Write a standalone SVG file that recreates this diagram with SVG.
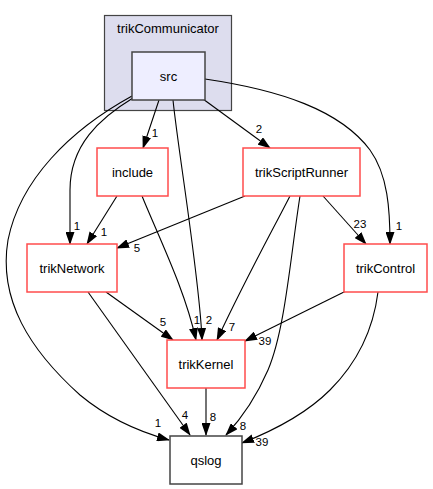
<svg xmlns="http://www.w3.org/2000/svg" width="433" height="489" viewBox="0 0 433 489">
<style>
text{font-family:"Liberation Sans",Arial,sans-serif;fill:#000}
.nl{font-size:13px;text-anchor:middle}
.el{font-size:11.5px;text-anchor:middle}
.red{fill:#fff;stroke:#ff4c4c;stroke-width:1.5}
.gray{fill:#fff;stroke:#444;stroke-width:1.5}
.e{fill:none;stroke:#000;stroke-width:1.1;marker-end:url(#ah)}
</style>
<defs>
<marker id="ah" markerUnits="userSpaceOnUse" viewBox="0 0 13 9" markerWidth="13" markerHeight="9" refX="12" refY="4.5" orient="auto">
<path d="M0,0 L13,4.5 L0,9 z" fill="#000"/>
</marker>
</defs>
<g id="cluster_trikCommunicator">
<rect x="104.5" y="15.5" width="127" height="95" fill="#ddddee" stroke="#444" stroke-width="1.2"/>
<text class="nl" x="168" y="33">trikCommunicator</text>
</g>
<g id="edges">
<path class="e" d="M159,100 L143,148"/>
<path class="e" d="M133,98 C100,118 70,145 70,190 L70,244"/>
<path class="e" d="M132,96 C70,130 20,180 8,240 C-2,300 30,350 80,395 C110,420 140,432 169,440"/>
<path class="e" d="M173,100 C178,150 200,280 202,340"/>
<path class="e" d="M203,99 L270,148"/>
<path class="e" d="M205,79 C280,90 340,110 370,150 C388,175 390,210 390,244"/>
<path class="e" d="M117,196 L87,244"/>
<path class="e" d="M142,196 C160,240 185,290 196,340"/>
<path class="e" d="M245,196 L117,248"/>
<path class="e" d="M323,196 L366,244"/>
<path class="e" d="M290,196 C270,235 245,280 217,340"/>
<path class="e" d="M300,196 C290,260 285,330 268,370 C255,400 240,420 226,435"/>
<path class="e" d="M106,292 L173,340"/>
<path class="e" d="M88,292 L190,435"/>
<path class="e" d="M346,291 L245,341"/>
<path class="e" d="M378,292 C372,340 350,370 330,390 C305,415 270,432 242,443"/>
<path class="e" d="M206,388 L206,435"/>
<text class="el" x="155" y="137">1</text>
<text class="el" x="77" y="230">1</text>
<text class="el" x="104" y="236">1</text>
<text class="el" x="137" y="252">5</text>
<text class="el" x="259" y="133">2</text>
<text class="el" x="399" y="230">1</text>
<text class="el" x="360" y="228">23</text>
<text class="el" x="163" y="326">5</text>
<text class="el" x="197" y="324">1</text>
<text class="el" x="209" y="324">2</text>
<text class="el" x="232" y="331">7</text>
<text class="el" x="265" y="345">39</text>
<text class="el" x="158" y="427">1</text>
<text class="el" x="185" y="419">4</text>
<text class="el" x="213" y="421">8</text>
<text class="el" x="243" y="430">8</text>
<text class="el" x="262" y="446">39</text>
</g>
<g id="node_src">
<rect x="132" y="52" width="73" height="48" fill="#eeeeff" stroke="#444" stroke-width="1.5"/>
<text class="nl" x="168.5" y="80.5">src</text>
</g>
<g id="node_include">
<rect class="red" x="97" y="148" width="71" height="48"/>
<text class="nl" x="132.5" y="176.5">include</text>
</g>
<g id="node_trikScriptRunner">
<rect class="red" x="243" y="148" width="117" height="48"/>
<text class="nl" x="301.5" y="176.5">trikScriptRunner</text>
</g>
<g id="node_trikNetwork">
<rect class="red" x="27" y="244" width="90" height="48"/>
<text class="nl" x="72" y="272.5">trikNetwork</text>
</g>
<g id="node_trikControl">
<rect class="red" x="344" y="244" width="83" height="48"/>
<text class="nl" x="385.5" y="272.5">trikControl</text>
</g>
<g id="node_trikKernel">
<rect class="red" x="167" y="340" width="78" height="48"/>
<text class="nl" x="206" y="368.5">trikKernel</text>
</g>
<g id="node_qslog">
<rect class="gray" x="170" y="436" width="72" height="48"/>
<text class="nl" x="206" y="464.5">qslog</text>
</g>
</svg>
